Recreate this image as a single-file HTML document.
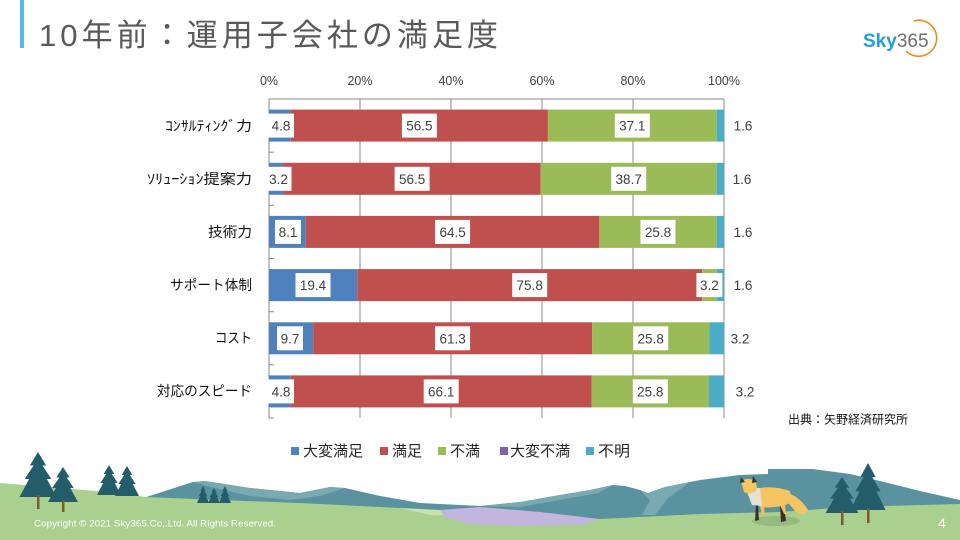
<!DOCTYPE html>
<html><head><meta charset="utf-8"><style>
html,body{margin:0;padding:0;background:#fff;}
svg{display:block;}
</style></head><body>
<svg width="960" height="540" viewBox="0 0 960 540" xmlns="http://www.w3.org/2000/svg">
<defs>
<polygon id="tree" points="0,0 0.22,0.3 0.12,0.3 0.36,0.6 0.24,0.6 0.5,1 -0.5,1 -0.24,0.6 -0.36,0.6 -0.12,0.3 -0.22,0.3"/>
</defs>
<rect width="960" height="540" fill="#fff"/>

<!-- Title -->
<rect x="20" y="0" width="4" height="48" fill="#5bbbe8"/>
<text x="39" y="46" font-family="Liberation Sans, Noto Sans CJK JP, sans-serif" font-size="31" fill="#595959" textLength="459" lengthAdjust="spacing">10年前：運用子会社の満足度</text>

<!-- Logo -->
<text x="863" y="47" font-family="Liberation Sans, sans-serif" font-size="19" font-weight="bold"><tspan fill="#1fa0dc">Sky</tspan><tspan fill="#6d6d6d" font-weight="normal">365</tspan></text>
<path d="M913.5,21 A18,18 0 1 1 906,51" fill="none" stroke="#f08a1c" stroke-width="1.6"/>

<!-- Chart: gridlines -->
<g stroke="#8a8a8a" stroke-width="1">
<line x1="269" y1="99" x2="269" y2="418"/>
<line x1="360" y1="99" x2="360" y2="418"/>
<line x1="451" y1="99" x2="451" y2="418"/>
<line x1="542" y1="99" x2="542" y2="418"/>
<line x1="633" y1="99" x2="633" y2="418"/>
<line x1="724" y1="99" x2="724" y2="418"/>
<line x1="269" y1="99" x2="724" y2="99"/>
<line x1="269" y1="152.2" x2="274" y2="152.2"/>
<line x1="269" y1="205.3" x2="274" y2="205.3"/>
<line x1="269" y1="258.5" x2="274" y2="258.5"/>
<line x1="269" y1="311.7" x2="274" y2="311.7"/>
<line x1="269" y1="364.8" x2="274" y2="364.8"/>
<line x1="269" y1="418" x2="274" y2="418"/>
</g>

<!-- Axis labels -->
<g font-family="Liberation Sans, sans-serif" font-size="12.5" fill="#404040" text-anchor="middle">
<text x="269" y="85">0%</text>
<text x="360" y="85">20%</text>
<text x="451" y="85">40%</text>
<text x="542" y="85">60%</text>
<text x="633" y="85">80%</text>
<text x="724" y="85">100%</text>
</g>

<!-- Category labels -->
<g font-family="Liberation Sans, Noto Sans CJK JP, sans-serif" font-size="14" fill="#111" text-anchor="end">
<text x="252" y="131" textLength="87" lengthAdjust="spacingAndGlyphs">ｺﾝｻﾙﾃｨﾝｸﾞ力</text>
<text x="252" y="184" textLength="105" lengthAdjust="spacingAndGlyphs">ｿﾘｭｰｼｮﾝ提案力</text>
<text x="252" y="237" textLength="44" lengthAdjust="spacingAndGlyphs">技術力</text>
<text x="252" y="290" textLength="82" lengthAdjust="spacingAndGlyphs">サポート体制</text>
<text x="252" y="343" textLength="37" lengthAdjust="spacingAndGlyphs">コスト</text>
<text x="252" y="396" textLength="95" lengthAdjust="spacingAndGlyphs">対応のスピード</text>
</g>

<!-- Bars -->
<g>
<!-- row0 -->
<rect x="269" y="109.6" width="21.84" height="32" fill="#4f81bd"/>
<rect x="290.84" y="109.6" width="257.08" height="32" fill="#c0504d"/>
<rect x="547.92" y="109.6" width="168.8" height="32" fill="#9bbb59"/>
<rect x="716.72" y="109.6" width="7.28" height="32" fill="#4bacc6"/>
<!-- row1 -->
<rect x="269" y="162.8" width="14.56" height="32" fill="#4f81bd"/>
<rect x="283.56" y="162.8" width="257.08" height="32" fill="#c0504d"/>
<rect x="540.64" y="162.8" width="176.08" height="32" fill="#9bbb59"/>
<rect x="716.72" y="162.8" width="7.28" height="32" fill="#4bacc6"/>
<!-- row2 -->
<rect x="269" y="215.9" width="36.86" height="32" fill="#4f81bd"/>
<rect x="305.86" y="215.9" width="293.47" height="32" fill="#c0504d"/>
<rect x="599.33" y="215.9" width="117.39" height="32" fill="#9bbb59"/>
<rect x="716.72" y="215.9" width="7.28" height="32" fill="#4bacc6"/>
<!-- row3 -->
<rect x="269" y="269.1" width="88.27" height="32" fill="#4f81bd"/>
<rect x="357.27" y="269.1" width="344.89" height="32" fill="#c0504d"/>
<rect x="702.16" y="269.1" width="14.56" height="32" fill="#9bbb59"/>
<rect x="716.72" y="269.1" width="7.28" height="32" fill="#4bacc6"/>
<!-- row4 -->
<rect x="269" y="322.3" width="44.14" height="32" fill="#4f81bd"/>
<rect x="313.14" y="322.3" width="278.91" height="32" fill="#c0504d"/>
<rect x="592.05" y="322.3" width="117.39" height="32" fill="#9bbb59"/>
<rect x="709.44" y="322.3" width="14.56" height="32" fill="#4bacc6"/>
<!-- row5 -->
<rect x="269" y="375.4" width="21.84" height="32" fill="#4f81bd"/>
<rect x="290.84" y="375.4" width="300.76" height="32" fill="#c0504d"/>
<rect x="591.6" y="375.4" width="117.39" height="32" fill="#9bbb59"/>
<rect x="708.99" y="375.4" width="15.01" height="32" fill="#4bacc6"/>
</g>

<!-- Label boxes -->
<g fill="#fff">
<rect x="268" y="113.6" width="26" height="24"/>
<rect x="401.9" y="113.6" width="35" height="24"/>
<rect x="614.8" y="113.6" width="35" height="24"/>
<rect x="265.5" y="166.8" width="26" height="24"/>
<rect x="394.6" y="166.8" width="35" height="24"/>
<rect x="611.2" y="166.8" width="35" height="24"/>
<rect x="275" y="219.9" width="26" height="24"/>
<rect x="435.1" y="219.9" width="35" height="24"/>
<rect x="640.5" y="219.9" width="35" height="24"/>
<rect x="295.5" y="273.1" width="35" height="24"/>
<rect x="512.2" y="273.1" width="35" height="24"/>
<rect x="696.4" y="273.1" width="26" height="24"/>
<rect x="277" y="326.3" width="26" height="24"/>
<rect x="435.1" y="326.3" width="35" height="24"/>
<rect x="633.2" y="326.3" width="35" height="24"/>
<rect x="268" y="379.4" width="26" height="24"/>
<rect x="423.7" y="379.4" width="35" height="24"/>
<rect x="632.8" y="379.4" width="35" height="24"/>
</g>
<g font-family="Liberation Sans, sans-serif" font-size="13.5" fill="#404040" text-anchor="middle">
<text x="281" y="130.6">4.8</text>
<text x="419.4" y="130.6">56.5</text>
<text x="632.3" y="130.6">37.1</text>
<text x="743" y="130.6">1.6</text>
<text x="278.5" y="183.8">3.2</text>
<text x="412.1" y="183.8">56.5</text>
<text x="628.7" y="183.8">38.7</text>
<text x="742" y="183.8">1.6</text>
<text x="288" y="236.9">8.1</text>
<text x="452.6" y="236.9">64.5</text>
<text x="658" y="236.9">25.8</text>
<text x="743" y="236.9">1.6</text>
<text x="313" y="290.1">19.4</text>
<text x="529.7" y="290.1">75.8</text>
<text x="709.4" y="290.1">3.2</text>
<text x="743" y="290.1">1.6</text>
<text x="290" y="343.3">9.7</text>
<text x="452.6" y="343.3">61.3</text>
<text x="650.7" y="343.3">25.8</text>
<text x="740" y="343.3">3.2</text>
<text x="281" y="396.4">4.8</text>
<text x="441.2" y="396.4">66.1</text>
<text x="650.3" y="396.4">25.8</text>
<text x="745" y="396.4">3.2</text>
</g>

<!-- Source -->
<text x="788" y="423.5" font-family="Liberation Sans, Noto Sans CJK JP, sans-serif" font-size="12" fill="#111" textLength="120" lengthAdjust="spacingAndGlyphs">出典：矢野経済研究所</text>

<!-- Landscape: hills -->
<polygon fill="#5a929f" points="140,499 193,482 205,481 250,488 300,493 330,487 345,488 380,496 420,503 480,506 520,502 560,495 590,490 613,485 625,486 640,490 648,493 665,487 700,480 740,475 768,474 768,469 813,469 850,474 880,481 920,491 960,500 960,530 140,530"/>
<polygon fill="#79a9b3" points="193,482 205,481 250,488 300,493 330,487 345,488 320,496 290,500 250,496 215,488"/>
<polygon fill="#79a9b3" points="480,506 520,502 560,495 590,490 613,485 598,493 560,500 520,507"/>
<polygon fill="#79a9b3" points="640,490 648,493 665,487 690,482 668,498 655,515 642,515 650,500"/>

<!-- Ground -->
<polygon fill="#a9d08e" points="0,483 60,488 120,493 145,497 220,500 300,503 400,508 480,515 600,519 700,514 780,512 850,507 960,504 960,540 0,540"/>
<polygon fill="#c8e0b2" points="400,508 440,510 470,516 430,515"/>
<polygon fill="#c3b6de" points="440,510 480,507 540,512 600,519 585,524 520,526 470,524 445,517"/>

<!-- Trees -->
<g fill="#245d6a">
<use href="#tree" transform="translate(38,452) scale(37,45)"/>
<use href="#tree" transform="translate(63,467) scale(30,35)"/>
<use href="#tree" transform="translate(109,465) scale(24,30)"/>
<use href="#tree" transform="translate(127,466) scale(24,30)"/>
<use href="#tree" transform="translate(203,486) scale(12,17)"/>
<use href="#tree" transform="translate(214,488) scale(12,15)"/>
<use href="#tree" transform="translate(225,486) scale(12,17)"/>
<use href="#tree" transform="translate(842,477) scale(33,36)"/>
<use href="#tree" transform="translate(868,463) scale(35,47)"/>
</g>
<g fill="#7b5a2e">
<rect x="37" y="495" width="2.5" height="14"/>
<rect x="62" y="500" width="2.5" height="12"/>
<rect x="841" y="511" width="2.5" height="14"/>
<rect x="867" y="508" width="2.5" height="15"/>
</g>

<!-- Fox -->
<ellipse cx="776" cy="521" rx="24" ry="5" fill="#97ba7e"/>
<path d="M758,505 L759,520 L755,521 L756,505 Z" fill="#3a302a"/>
<path d="M784,505 L786,521 L781,522 L780,506 Z" fill="#3a302a"/>
<path d="M760,506 L762,516 L765,516 L764,505 Z" fill="#f1bd5a"/>
<path d="M780,505 L784,514 L786,514 L785,504 Z" fill="#f1bd5a"/>
<path d="M752,490 Q770,484 790,491 L792,502 Q780,509 760,507 Z" fill="#f6c563"/>
<path d="M788,493 Q800,497 808,510 Q804,517 796,512 Q790,505 786,500 Z" fill="#f6c563"/>
<path d="M745,487 L760,488 L762,506 L752,505 Z" fill="#e7e1d4"/>
<path d="M741,481 Q748,477 756,481 L757,490 Q750,496 744,492 Z" fill="#f6c563"/>
<path d="M741,477 L745,482 L740,483 Z" fill="#3a302a"/>
<path d="M753,476 L757,482 L752,483 Z" fill="#3a302a"/>

<!-- Legend -->
<rect x="291" y="447" width="8" height="8" fill="#4f81bd"/>
<rect x="380" y="447" width="8" height="8" fill="#c0504d"/>
<rect x="438" y="447" width="8" height="8" fill="#9bbb59"/>
<rect x="500" y="447" width="8" height="8" fill="#8064a2"/>
<rect x="586" y="447" width="8" height="8" fill="#4bacc6"/>
<g font-family="Liberation Sans, Noto Sans CJK JP, sans-serif" font-size="15" fill="#262626">
<text x="303" y="456" textLength="60" lengthAdjust="spacingAndGlyphs">大変満足</text>
<text x="392" y="456" textLength="30" lengthAdjust="spacingAndGlyphs">満足</text>
<text x="450" y="456" textLength="30" lengthAdjust="spacingAndGlyphs">不満</text>
<text x="510" y="456" textLength="60" lengthAdjust="spacingAndGlyphs">大変不満</text>
<text x="598" y="456" textLength="32" lengthAdjust="spacingAndGlyphs">不明</text>
</g>

<!-- Footer -->
<text x="34" y="526.5" font-family="Liberation Sans, sans-serif" font-size="9.5" fill="#fff" textLength="242" lengthAdjust="spacingAndGlyphs">Copyright © 2021 Sky365.Co,.Ltd. All Rights Reserved.</text>
<text x="942" y="528" font-family="Liberation Sans, sans-serif" font-size="14" fill="#fff" text-anchor="middle">4</text>
</svg>
</body></html>
